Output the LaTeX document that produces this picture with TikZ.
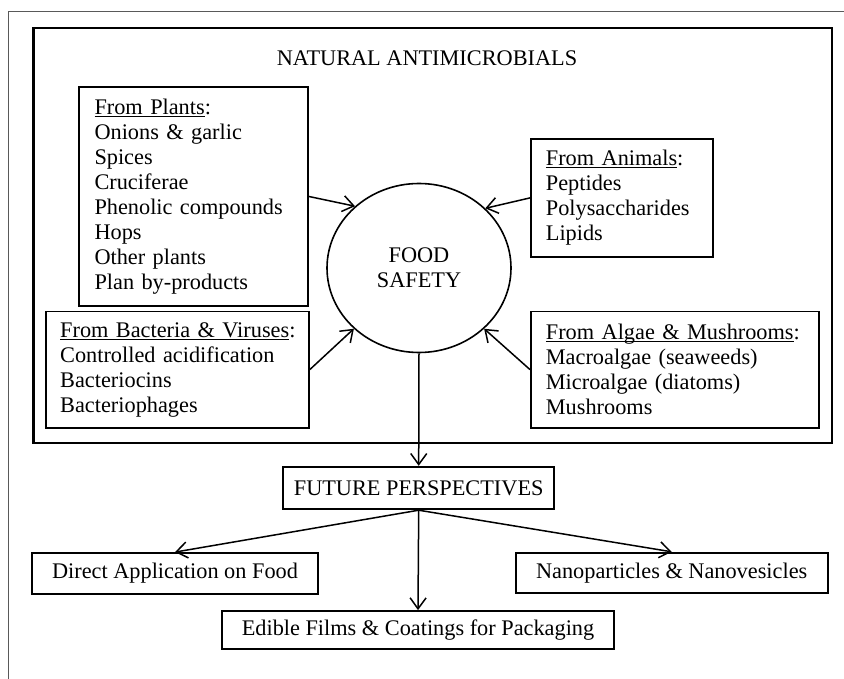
\documentclass[tikz,border=0pt]{standalone}
\usepackage{fontspec}
\setmainfont{Liberation Serif}
\usetikzlibrary{arrows.meta,shapes.geometric}
\newcommand\myul[1]{\leavevmode\setbox0\hbox{#1}\rlap{\rule[-2.6pt]{\wd0}{1.2pt}}\box0}
\tikzset{
  txt/.style={font=\fontsize{22.3}{25}\selectfont},
  srcbox/.style={txt, draw, line width=1.8pt, anchor=north west, align=left, inner ysep=0pt},
  outbox/.style={txt, draw, line width=1.8pt, inner sep=0pt},
  arr/.style={line width=1.5pt, -{Straight Barb[length=11pt,width=16pt,line width=1.5pt]}},
}
\begin{document}
\begin{tikzpicture}[x=1pt,y=-1pt]
\useasboundingbox (0,0) rectangle (844,679);
% outer frame
\draw[black!65, line width=0.9pt] (844,11) -- (8.3,11) -- (8.3,679);
% main container
\node[draw, line width=2.2pt, anchor=north west, minimum width=798.4pt, minimum height=414.4pt, inner sep=0pt] (main) at (32.3,27.3) {};
\node[txt] (title) at (427,58) {NATURAL ANTIMICROBIALS};
% central ellipse
\node[txt, draw, ellipse, line width=1.6pt, minimum width=184pt, minimum height=169pt, inner sep=0pt, align=center] (food) at (419,268) {FOOD\\SAFETY};
% source boxes
\node[srcbox, inner xsep=15.6pt, text width=197.5pt, minimum height=219pt] (plants) at (78,86)
  {\myul{From Plants}:\\Onions \& garlic\\Spices\\Cruciferae\\Phenolic compounds\\Hops\\Other plants\\Plan by-products};
\node[srcbox, inner xsep=15pt, text width=151.7pt, minimum height=118pt] (animals) at (530,138)
  {\myul{From Animals}:\\Peptides\\Polysaccharides\\Lipids};
\node[srcbox, inner xsep=14.3pt, text width=234.4pt, minimum height=116pt] (bacteria) at (45,310.7)
  {\myul{From Bacteria \& Viruses}:\\Controlled acidification\\Bacteriocins\\Bacteriophages};
\node[srcbox, inner xsep=15pt, text width=258pt, minimum height=116pt] (algae) at (530,310.7)
  {\myul{From Algae \& Mushrooms}:\\Macroalgae (seaweeds)\\Microalgae (diatoms)\\Mushrooms};
% future boxes
\node[outbox, minimum width=270.7pt, minimum height=42.6pt] (fp) at (418.7,488) {FUTURE PERSPECTIVES};
\node[outbox, minimum width=285.3pt, minimum height=41pt] (direct) at (175,573.5) {Direct Application on Food};
\node[outbox, minimum width=312.2pt, minimum height=40pt] (nano) at (671.7,572.7) {Nanoparticles \& Nanovesicles};
\node[outbox, minimum width=392pt, minimum height=38pt] (edible) at (418,630) {Edible Films \& Coatings for Packaging};
% connectors
\draw[arr] (plants.east) -- (food.136);
\draw[arr] (animals.west) -- (food.42);
\draw[arr] (bacteria.east) -- (food.223);
\draw[arr] (algae.west) -- (food.317);
\draw[arr] (food.south) -- (fp.north);
\draw[arr] (fp.south) -- (direct.north);
\draw[arr] (fp.south) -- (nano.north);
\draw[arr] (fp.south) -- (edible.north);
\end{tikzpicture}
\end{document}
